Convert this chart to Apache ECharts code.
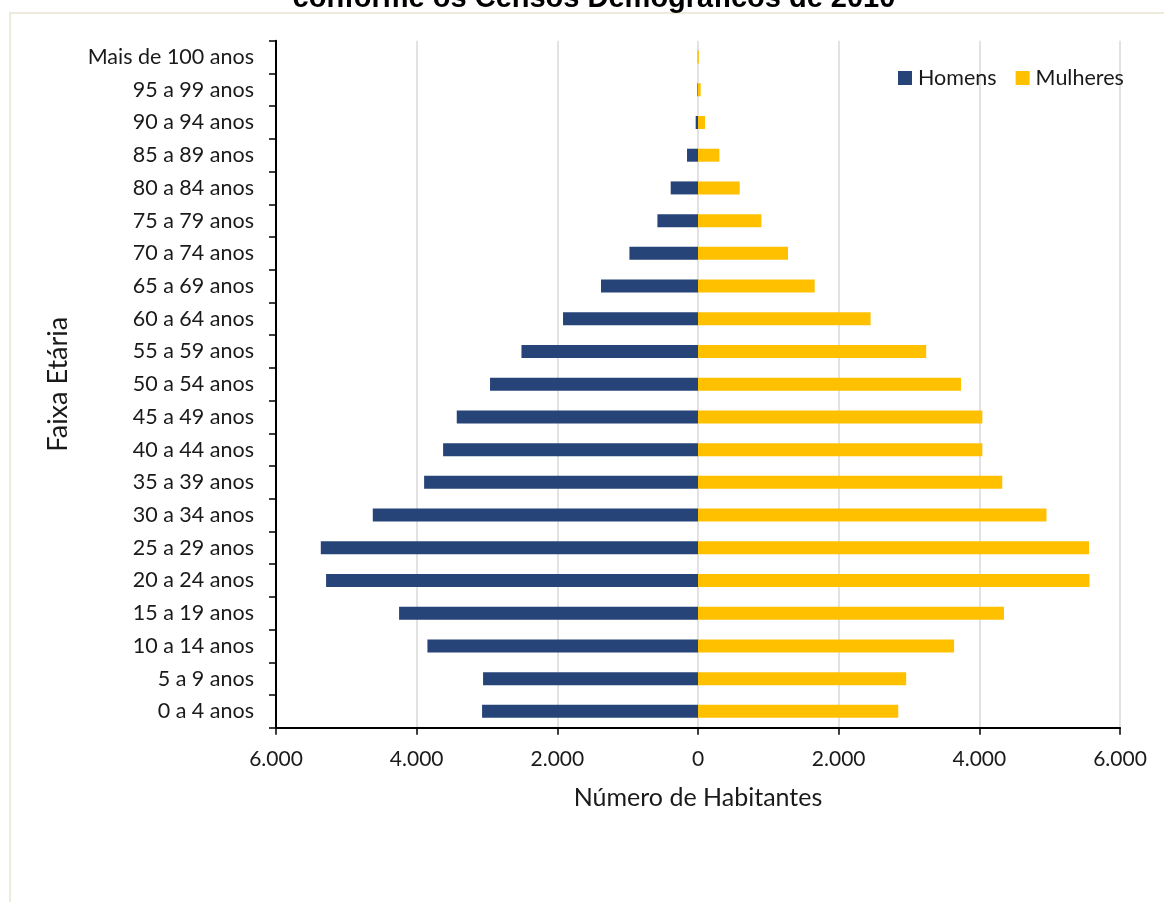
<!DOCTYPE html>
<html>
<head>
<meta charset="utf-8">
<script src="https://cdn.jsdelivr.net/npm/echarts@6/dist/echarts.min.js"></script>
<style>
html,body{margin:0;padding:0;background:#fff;}
#chart{width:1164px;height:902px;}
</style>
</head>
<body>
<div id="chart"></div>
<script>
const categories = ['0 a 4 anos','5 a 9 anos','10 a 14 anos','15 a 19 anos','20 a 24 anos','25 a 29 anos','30 a 34 anos','35 a 39 anos','40 a 44 anos','45 a 49 anos','50 a 54 anos','55 a 59 anos','60 a 64 anos','65 a 69 anos','70 a 74 anos','75 a 79 anos','80 a 84 anos','85 a 89 anos','90 a 94 anos','95 a 99 anos','Mais de 100 anos'];
const homens = [3070, 3056, 3847, 4250, 5288, 5363, 4624, 3894, 3624, 3430, 2957, 2510, 1919, 1379, 975, 577, 388, 156, 33, 8, 2];
const mulheres = [2847, 2960, 3641, 4350, 5566, 5560, 4955, 4326, 4043, 4043, 3740, 3244, 2454, 1659, 1280, 901, 593, 304, 100, 38, 12];
const xTicks = [-6000, -4000, -2000, 0, 2000, 4000, 6000];
const titleText = 'conforme os Censos Demográficos de 2010';

const fmt = v => Math.abs(v).toLocaleString('de-DE');
const labelFont = 'Lato';

const chart = echarts.init(document.getElementById('chart'), null, {renderer: 'canvas'});
chart.setOption({
  animation: false,
  backgroundColor: '#ffffff',
  graphic: [
    {type: 'rect', shape: {x: 10, y: 13, width: 1200, height: 1000}, style: {fill: 'none', stroke: '#eeeadc', lineWidth: 2}, z: -10},
    {type: 'text', x: 594, y: 13, style: {text: titleText, font: 'bold 29px "Liberation Sans", Arial, sans-serif', fill: '#000', align: 'center', verticalAlign: 'bottom'}}
  ],
  legend: {
    left: 893, top: 62,
    itemWidth: 14, itemHeight: 14, itemGap: 19,
    icon: 'rect',
    textStyle: {fontFamily: labelFont, fontSize: 21.5, color: '#1a1a1a', padding: [0,0,0,1]},
    data: ['Homens', 'Mulheres']
  },
  grid: {left: 276, right: 44, top: 40.7, bottom: 174.3, containLabel: false},
  xAxis: {
    type: 'value', min: xTicks[0], max: xTicks[xTicks.length-1], interval: 2000,
    name: 'Número de Habitantes', nameLocation: 'middle', nameGap: 58,
    nameTextStyle: {fontFamily: labelFont, fontSize: 25, color: '#1a1a1a'},
    axisLine: {show: true, onZero: false, lineStyle: {color: '#000', width: 2}},
    axisTick: {show: true, length: 7, lineStyle: {color: '#000', width: 1.5}},
    axisLabel: {formatter: fmt, fontFamily: labelFont, fontSize: 21, color: '#1a1a1a', margin: 21},
    splitLine: {show: true, lineStyle: {color: '#d9d9d9', width: 1.5}}
  },
  yAxis: {
    type: 'category', data: categories,
    name: 'Faixa Etária', nameLocation: 'middle', nameGap: 204,
    nameTextStyle: {fontFamily: labelFont, fontSize: 27, color: '#1a1a1a'},
    axisLine: {show: true, onZero: false, lineStyle: {color: '#000', width: 2}},
    axisTick: {show: true, length: 7, lineStyle: {color: '#000', width: 1.5}},
    axisLabel: {fontFamily: labelFont, fontSize: 21.5, color: '#1a1a1a', margin: 22},
    splitLine: {show: false}
  },
  series: [
    {name: 'Homens', type: 'bar', data: homens.map(v => -v), barWidth: 13, barGap: '-100%',
     itemStyle: {color: '#264478'}},
    {name: 'Mulheres', type: 'bar', data: mulheres, barWidth: 13, barGap: '-100%',
     itemStyle: {color: '#FFC000'}}
  ]
});
</script>
</body>
</html>
